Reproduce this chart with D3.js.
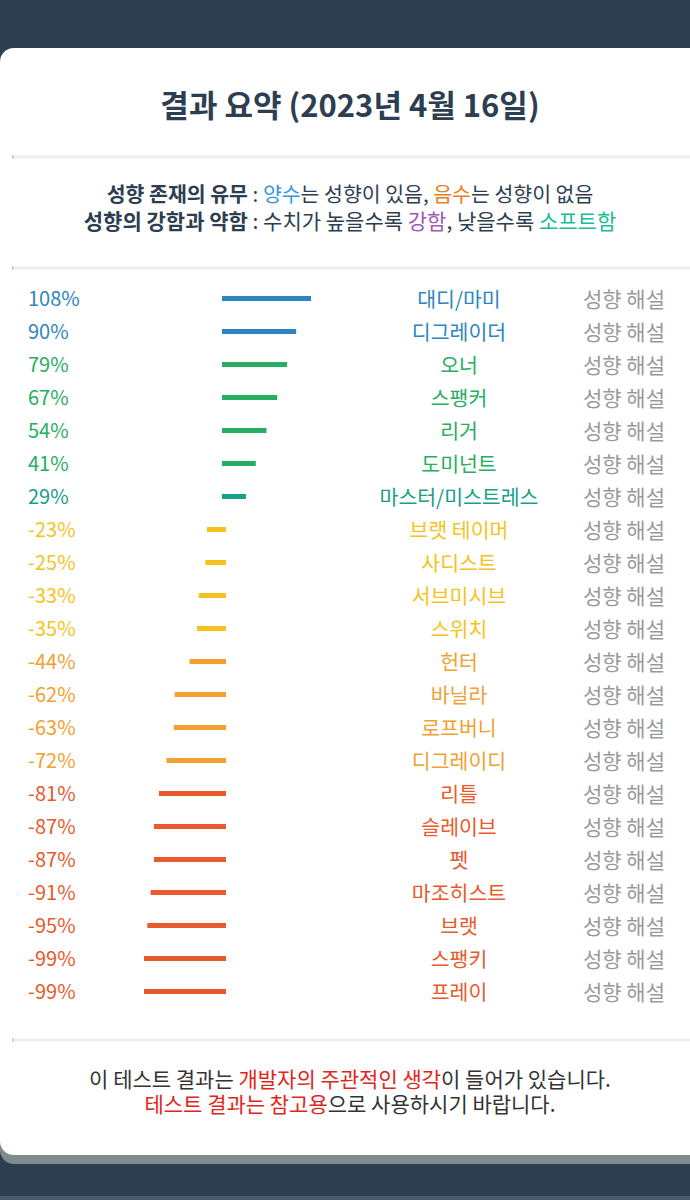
<!DOCTYPE html>
<html>
<head>
<meta charset="utf-8">
<script src="https://cdn.jsdelivr.net/npm/d3@7"></script>
<style>
  html, body { margin: 0; padding: 0; background: #2e3d4f; }
  svg { display: block; }
  text { font-family: "Noto Sans CJK KR", "Noto Sans", sans-serif; }
</style>
</head>
<body>
<svg id="chart" width="690" height="1200"></svg>
<script>
// ---- data ----
const titleText = "결과 요약 (2023년 4월 16일)";
const names = ["대디/마미","디그레이더","오너","스팽커","리거","도미넌트","마스터/미스트레스",
  "브랫 테이머","사디스트","서브미시브","스위치","헌터","바닐라","로프버니","디그레이디",
  "리틀","슬레이브","펫","마조히스트","브랫","스팽키","프레이"];
const values = [108, 90, 79, 67, 54, 41, 29, -23, -25, -33, -35, -44, -62, -63, -72,
  -81, -87, -87, -91, -95, -99, -99];
const linkLabel = "성향 해설";

// ---- drawing ----
const svg = d3.select("#chart");
const W = 690, H = 1200;

svg.append("rect").attr("x", 0).attr("y", 0).attr("width", W).attr("height", H).attr("fill", "#2e3d4f");
svg.append("rect").attr("x", 0).attr("y", 1196).attr("width", W).attr("height", 4).attr("fill", "#4a5867");
// shadow band
svg.append("rect").attr("x", 0).attr("y", 60).attr("width", W + 40).attr("height", 1104)
  .attr("rx", 14).attr("fill", "#7f8c8d");
// card
svg.append("rect").attr("x", 0).attr("y", 48).attr("width", W + 40).attr("height", 1107)
  .attr("rx", 14).attr("fill", "#ffffff");

// title
svg.append("text").attr("x", 350).attr("y", 117).attr("text-anchor", "middle")
  .attr("font-size", 31).attr("font-weight", 700).attr("fill", "#2c3e50").text(titleText);

function divider(y) {
  svg.append("rect").attr("x", 12).attr("y", y - 1.5).attr("width", W).attr("height", 3).attr("fill", "#eeeeee");
  svg.append("rect").attr("x", 12).attr("y", y - 1.5).attr("width", 1.5).attr("height", 3).attr("fill", "#bbbbbb");
}
divider(157);
divider(268);
divider(1040);

function richLine(y, parts, size) {
  const t = svg.append("text").attr("x", 350).attr("y", y).attr("text-anchor", "middle")
    .attr("font-size", size);
  parts.forEach(p => {
    t.append("tspan").attr("fill", p.c || "#2c3e50").attr("font-weight", p.b ? 700 : 400).text(p.t);
  });
}
richLine(202, [
  {t: "성향 존재의 유무", b: true}, {t: " : "},
  {t: "양수", c: "#3498db"}, {t: "는 성향이 있음, "},
  {t: "음수", c: "#e67e22"}, {t: "는 성향이 없음"}
], 20.5);
richLine(229, [
  {t: "성향의 강함과 약함", b: true}, {t: " : 수치가 높을수록 "},
  {t: "강함", c: "#9b59b6"}, {t: ", 낮을수록 "},
  {t: "소프트함", c: "#1abc9c"}
], 21);

// color by value
const color = d3.scaleThreshold()
  .domain([-75, -40, 0, 35, 85])
  .range(["#e85a2b", "#f0a131", "#f5c31e", "#16a085", "#27ae60", "#2e86c1"]);

const rows = names.map((n, i) => ({name: n, value: values[i]}));
const y = d3.scaleBand().domain(d3.range(rows.length)).range([282, 1008]);
const xPos = d3.scaleLinear().domain([0, 108]).range([222, 311]);
const xNeg = d3.scaleLinear().domain([-99, 0]).range([144, 226]);

const g = svg.append("g");
const row = g.selectAll("g.row").data(rows).join("g").attr("class", "row")
  .attr("transform", (d, i) => `translate(0,${y(i) + y.bandwidth() / 2})`);

row.append("text").attr("x", 28).attr("y", 7).attr("font-size", 20)
  .attr("fill", d => color(d.value)).text(d => d.value + "%");

row.append("rect")
  .attr("x", d => d.value >= 0 ? xPos(0) : xNeg(d.value))
  .attr("width", d => d.value >= 0 ? xPos(d.value) - xPos(0) : xNeg(0) - xNeg(d.value))
  .attr("y", -2.5).attr("height", 5)
  .attr("fill", d => color(d.value));

row.append("text").attr("x", 459).attr("y", 8).attr("text-anchor", "middle").attr("font-size", 20.5)
  .attr("fill", d => color(d.value)).text(d => d.name);

row.append("text").attr("x", 624).attr("y", 8).attr("text-anchor", "middle").attr("font-size", 21)
  .attr("fill", "#999999").text(linkLabel);

// footer
richLine(1087, [
  {t: "이 테스트 결과는 ", c: "#333333"}, {t: "개발자의 주관적인 생각", c: "#e0261b"},
  {t: "이 들어가 있습니다.", c: "#333333"}
], 21);
richLine(1112, [
  {t: "테스트 결과는 참고용", c: "#e0261b"}, {t: "으로 사용하시기 바랍니다.", c: "#333333"}
], 21);
</script>
</body>
</html>
